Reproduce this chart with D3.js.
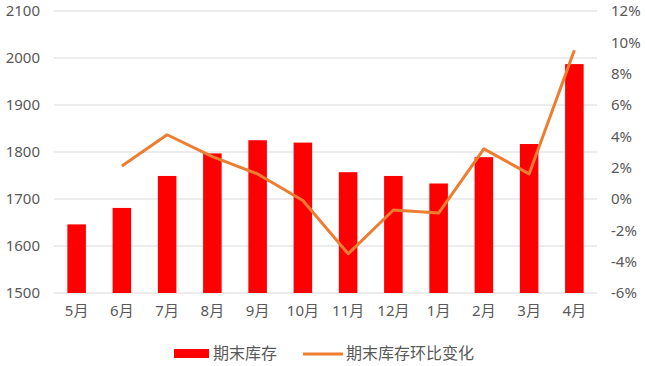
<!DOCTYPE html>
<html>
<head>
<meta charset="utf-8">
<script src="https://cdn.jsdelivr.net/npm/d3@7"></script>
<style>
  body { margin: 0; background: #fff; }
  text { font-family: "Noto Sans", "Noto Sans CJK SC", sans-serif; fill: #595959; }
</style>
</head>
<body>
<svg id="chart" width="645" height="366"></svg>
<script>
const months = ["5月", "6月", "7月", "8月", "9月", "10月", "11月", "12月", "1月", "2月", "3月", "4月"];
const stock = [1646, 1681, 1749, 1797, 1825, 1820, 1757, 1749, 1733, 1789, 1817, 1987];
const change = [null, 2.1, 4.1, 2.7, 1.6, -0.1, -3.5, -0.7, -0.9, 3.2, 1.6, 9.5];
const leftTicks = [1500, 1600, 1700, 1800, 1900, 2000, 2100];
const rightTicks = [-6, -4, -2, 0, 2, 4, 6, 8, 10, 12];

const svg = d3.select('#chart');
const plotLeft = 54, plotRight = 597, plotTop = 11, plotBottom = 293;

var x = d3.scaleBand()
  .domain(months)
  .range([plotLeft, plotRight])
  .paddingInner(0.59)
  .paddingOuter(0.295);
var y = d3.scaleLinear().domain([1500, 2100]).range([plotBottom, plotTop]);
var y2 = d3.scaleLinear().domain([-6, 12]).range([plotBottom, plotTop]);

// gridlines
svg.append('g').selectAll('line')
  .data(leftTicks)
  .join('line')
  .attr('x1', plotLeft).attr('x2', plotRight)
  .attr('y1', d => y(d)).attr('y2', d => y(d))
  .attr('stroke', '#d9d9d9')
  .attr('stroke-width', 1);

// left axis labels
var yAxis = d3.axisLeft(y).tickValues(leftTicks).tickSize(0).tickPadding(0)
  .tickFormat(d3.format('d'));
svg.append('g')
  .attr('transform', 'translate(40,0)')
  .call(yAxis)
  .call(g => g.select('.domain').remove())
  .selectAll('text')
  .style('font-size', '15px')
  .attr('fill', '#595959');

// right axis labels
var yAxis2 = d3.axisRight(y2).tickValues(rightTicks).tickSize(0).tickPadding(0)
  .tickFormat(d => d + '%');
svg.append('g')
  .attr('transform', 'translate(611,0)')
  .call(yAxis2)
  .call(g => g.select('.domain').remove())
  .selectAll('text')
  .style('font-size', '15px')
  .attr('fill', '#595959');

// bars
svg.append('g').selectAll('rect')
  .data(stock)
  .join('rect')
  .attr('x', (d, i) => x(months[i]))
  .attr('width', x.bandwidth())
  .attr('y', d => y(d))
  .attr('height', d => plotBottom - y(d))
  .attr('fill', '#ff0000');

// x labels
var xAxis = d3.axisBottom(x).tickSize(0).tickPadding(0);
svg.append('g')
  .attr('transform', 'translate(0,' + (plotBottom + 12) + ')')
  .call(xAxis)
  .call(g => g.select('.domain').remove())
  .selectAll('text')
  .style('font-size', '15px')
  .attr('fill', '#595959');

// line
var line = d3.line()
  .defined(d => d != null)
  .x((d, i) => x(months[i]) + x.bandwidth() / 2)
  .y(d => y2(d));
svg.append('path')
  .datum(change)
  .attr('d', line)
  .attr('fill', 'none')
  .attr('stroke', '#ed7d31')
  .attr('stroke-width', 3)
  .attr('stroke-linejoin', 'round');

// legend
var lg = svg.append('g');
lg.append('rect').attr('x', 174).attr('y', 349).attr('width', 35).attr('height', 9).attr('fill', '#ff0000');
lg.append('text').attr('x', 213).attr('y', 359).style('font-size', '16px').text('期末库存');
lg.append('line').attr('x1', 303).attr('x2', 343).attr('y1', 354).attr('y2', 354)
  .attr('stroke', '#ed7d31').attr('stroke-width', 3);
lg.append('text').attr('x', 346).attr('y', 359).style('font-size', '16px').text('期末库存环比变化');
</script>
</body>
</html>
